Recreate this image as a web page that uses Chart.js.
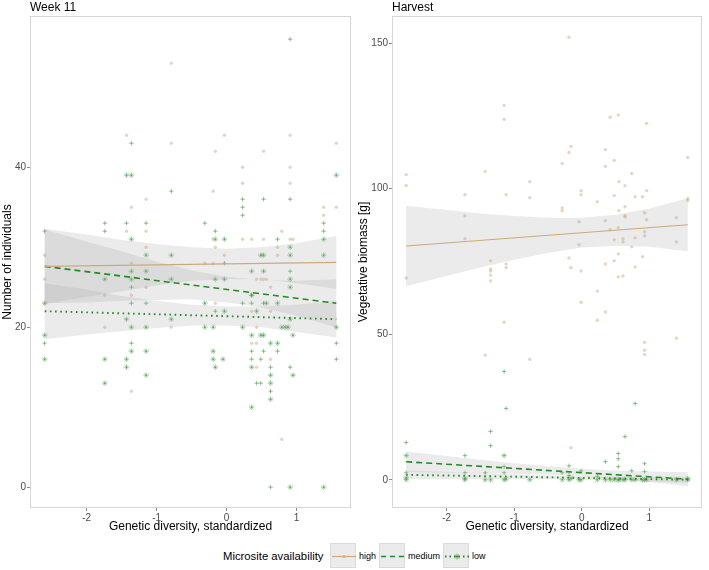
<!DOCTYPE html>
<html>
<head>
<meta charset="utf-8">
<script src="https://cdn.jsdelivr.net/npm/chart.js@4/dist/chart.umd.min.js"></script>
<style>
  html, body { margin:0; padding:0; background:#fff; }
  body { width:709px; height:570px; position:relative; overflow:hidden;
         font-family:"Liberation Sans", Arial, sans-serif; }
  canvas { position:absolute; top:0; }
  .ptitle { position:absolute; top:0; font-size:12px; line-height:14px; color:#000; }
  #legend { position:absolute; left:0; top:543px; width:709px; height:26px; }
  .lg { position:absolute; top:0; height:26px; line-height:26px; color:#000; }
  .key { position:absolute; top:0; width:26px; height:25px; background:#ebebeb; box-sizing:border-box; border:1px solid #dadada; }
  .key svg { position:absolute; left:0; top:0; }
</style>
</head>
<body>
<canvas id="c1" width="356" height="538" style="left:0px"></canvas>
<canvas id="c2" width="353" height="538" style="left:356px"></canvas>
<div class="ptitle" style="left:30px">Week 11</div>
<div class="ptitle" style="left:392px">Harvest</div>
<div id="legend">
  <div class="lg" style="left:223px;font-size:11.3px">Microsite availability</div>
  <div class="key" style="left:330px"><svg width="26" height="25"><line x1="1" y1="12.5" x2="25" y2="12.5" stroke="rgb(205,170,125)" stroke-width="1.2"/><circle cx="13" cy="12.5" r="1.6" fill="rgba(205,170,125,0.8)"/></svg></div>
  <div class="lg" style="left:359px;font-size:9px">high</div>
  <div class="key" style="left:379px"><svg width="26" height="25"><line x1="1" y1="12.5" x2="25" y2="12.5" stroke="rgb(34,139,34)" stroke-width="1.6" stroke-dasharray="5,4"/></svg></div>
  <div class="lg" style="left:408px;font-size:9px">medium</div>
  <div class="key" style="left:443px"><svg width="26" height="25"><line x1="1" y1="12.5" x2="25" y2="12.5" stroke="rgb(34,139,34)" stroke-width="1.8" stroke-dasharray="1.5,3"/><g stroke="rgba(34,139,34,0.6)" stroke-width="1"><line x1="10" y1="12.5" x2="16" y2="12.5"/><line x1="13" y1="9.5" x2="13" y2="15.5"/><line x1="11" y1="10.5" x2="15" y2="14.5"/><line x1="15" y1="10.5" x2="11" y2="14.5"/></g></svg></div>
  <div class="lg" style="left:472px;font-size:9px">low</div>
</div>
<script>
// ---------------- data ----------------
const categories = ['high', 'medium', 'low'];
const xTicks = [-2, -1, 0, 1];
const yTicksWeek11 = [0, 20, 40];
const yTicksHarvest = [0, 50, 100, 150];

// Week 11 — number of individuals
const w11HighX = [-0.79,-0.79,-0.79,-1.43,-1.43,-0.03,-0.03,-0.16,-0.16,-0.16,0.91,0.91,0.91,0.91,0.53,0.53,0.53,1.57,1.57,0.23,0.23,0.23,-0.19,-0.19,-0.19,1.39,1.39,-1.15,-1.15,-1.15,-1.15,-1.36,-1.36,-1.36,-1.36,0.79,0.79,0.36,0.36,0.36,0.73,0.73,-2.6,-2.6,-2.6,-0.31,0.57,0.43,0.43,0.43,0.49,-1.74,-1.74,0.43,0.63,0.63,0.63,0.95];
const w11HighY = [53,43,20,44,32,44,29,42,30,23,44,40,38,31,42,31,26,43,35,40,38,31,37,31,28,35,34,36,32,30,25,35,28,24,12,32,6,31,22,18,30,29,29,26,23,28,26,26,18,15,26,24,20,20,25,16,22,31];

const w11MedX = [0.91,-1.36,-0.79,0.23,0.23,0.23,0.53,0.91,-1.74,-1.74,-1.43,-1.15,-0.31,-0.16,-2.6,-2.6,1.39,1.39,0.73,-1.36,-1.36,-1.36,-1.15,-0.03,0.91,0.36,0.53,0.73,1.57,1.57,0.36,0.49,0.63,0.91,0.43,0.49,0.63,0.63,0.23,0.36,0.53,-0.16,0.36];
const w11MedY = [56,43,37,36,35,34,36,36,33,32,33,33,33,32,32,18,33,32,31,25,23,18,23,28,27,17,17,17,16,18,16,16,15,15,13,13,12,0,23,23,23,22,24];

const w11LowX = [-1.43,-1.36,1.57,-1.36,-0.03,1.39,-0.16,0.91,-1.15,-0.79,0.49,0.53,0.91,1.39,-1.36,-1.15,0.36,0.53,-1.74,-1.36,-0.79,-0.16,-0.03,0.91,0.91,0.36,-2.6,-0.31,0.57,0.73,-0.03,0.43,-1.43,-0.79,0.91,-1.36,-1.15,-0.31,-0.19,0.23,0.79,0.84,0.88,1.57,-2.6,0.36,0.49,0.53,0.95,0.63,0.73,-1.36,-1.15,-0.19,-2.6,-1.74,-1.43,-0.19,-0.05,-1.43,-0.16,0.36,-1.15,0.63,0.95,-1.74,0.63,0.63,0.36,0.91,1.39];
const w11LowY = [39,39,39,31,31,31,31,30,29,29,29,29,29,29,27,27,27,27,26,26,26,26,26,26,25,24,23,23,23,23,22,22,21,21,21,20,20,20,20,20,20,20,20,20,19,19,19,19,19,18,18,17,17,17,16,16,16,16,16,15,15,15,14,14,14,13,13,11,10,0,0];

// Harvest — vegetative biomass [g]
const hvHighX = [-0.19,-1.15,-1.15,0.42,0.54,0.96,-0.16,-0.16,-0.19,0.35,0.35,0.48,-0.29,-0.29,-0.29,1.57,1.57,1.57,-2.6,-2.6,-2.6,-1.43,-1.43,0.74,0.74,0.55,0.55,0.64,0.64,0.64,0.64,-0.77,-0.77,-0.77,-1.73,-1.73,-1.73,-1.12,-1.12,-1.12,-0.01,-0.01,-0.01,0.23,0.23,0.23,0.48,0.48,0.48,0.79,0.79,0.79,0.9,0.9,0.96,0.96,0.93,0.93,0.93,0.93,0.93,0.93,-0.04,-0.04,0.35,0.35,0.35,0.42,0.54,0.54,0.54,0.61,0.61,0.61,1.4,1.4,1.4,-0.19,-0.16,-0.01,-1.35,-1.35,-1.35,-1.35,-1.35,-1.15];
const hvHighY = [152,128.6,123.8,124.5,125.3,122.4,114.5,11,112.4,113.4,107.6,109.7,108.6,93.4,92.4,110.7,96.6,95.9,104.8,101.1,69.3,105.9,42.8,105.2,80,102.4,92.4,101,93.8,90.7,90.3,102.4,96.9,41.4,97.9,90.7,82.8,97.9,74.1,72.8,99.3,97.9,71.7,95.5,64.8,54.8,97.6,82.4,75.2,97.2,83.1,73.1,97.2,76.6,99.3,89.3,91.7,85.2,83.8,47.2,44.5,43,88.6,80.7,89,74.1,57.6,85.9,86.6,77.6,69.7,82.8,81.7,70,90,81.7,48.6,76.2,72.8,61,75.2,72.4,71.7,70.3,68.3,54.1];

const hvMedX = [-2.6,-2.6,-1.73,-1.73,-1.15,-1.12,-1.15,-1.15,-1.35,-1.35,0.79,0.64,0.54,0.54,0.54,0.35,-0.19,0.93,0.93,0.74,-0.01,-0.29,-1.43,-0.19,0.23];
const hvMedY = [12.8,2.4,8.3,2.4,37.2,24.5,4.5,2.4,16.6,11.7,26.2,14.8,9,7.2,4.5,6.2,4.8,5.5,2.8,3.1,3.1,2.4,2.4,1.5,1.2];

const hvLowX = [-2.6,-2.6,-2.6,-1.73,-1.73,-1.43,-1.35,-1.15,-1.15,-1.12,-0.77,-0.29,-0.19,-0.16,-0.04,-0.01,0.23,0.35,0.42,0.48,0.54,0.55,0.61,0.64,0.74,0.79,0.9,0.93,0.96,1.4,1.57,1.57];
const hvLowY = [8.3,0.7,0,0,0.5,0,0,8.3,0,0.3,0,0,0,0.5,0,0,0,0,0,0,0,0,0,0,0,0,0,0,0,0,0,0.4];

// fitted lines (endpoints) and confidence bands
const fitX = [-2.6, 1.57];
const w11HighFit = [27.6, 28.1];
const w11MedFit  = [27.6, 23.0];
const w11LowFit  = [22.0, 21.0];
const hvHighFit  = [80.3, 87.6];
const hvMedFit   = [6.2, 0.2];
const hvLowFit   = [1.7, 0.0];

const bandX = [-2.6, -2, -1.5, -1, -0.5, 0, 0.5, 1, 1.57];
const w11HighUp = [32.3, 31.6, 30.9, 30.4, 30.0, 29.8, 30.0, 30.5, 31.4];
const w11HighLo = [22.9, 23.8, 24.5, 25.2, 25.8, 26.0, 26.0, 25.5, 24.8];
const w11MedUp  = [32.2, 30.7, 29.5, 28.2, 27.1, 26.3, 25.9, 25.8, 26.0];
const w11MedLo  = [23.0, 23.1, 23.3, 23.4, 23.5, 23.1, 22.5, 21.4, 20.0];
const w11LowUp  = [25.5, 24.7, 23.9, 23.3, 22.8, 22.6, 22.6, 22.8, 23.3];
const w11LowLo  = [18.5, 19.1, 19.5, 19.9, 20.2, 20.2, 20.0, 19.4, 18.7];
const hvHighUp  = [94.1, 92.7, 91.5, 90.6, 90.0, 90.0, 91.0, 93.2, 96.7];
const hvHighLo  = [66.5, 70.0, 72.9, 75.6, 77.9, 79.8, 80.4, 80.0, 78.5];
const hvMedUp   = [9.7, 8.2, 6.9, 5.7, 4.6, 3.8, 3.1, 2.8, 2.6];
const hvMedLo   = [2.7, 2.4, 2.3, 2.1, 1.8, 1.2, 0.3, -0.8, -2.2];
const hvLowUp   = [3.2, 2.7, 2.3, 1.9, 1.5, 1.2, 1.0, 1.0, 1.0];
const hvLowLo   = [0.2, 0.3, 0.3, 0.3, 0.3, 0.0, -0.2, -0.6, -1.0];

// ---------------- styling ----------------
const FONT = '"Liberation Sans", Arial, sans-serif';
const TAN = 'rgb(205,170,125)';
const GREEN = 'rgb(34,139,34)';
const BAND = 'rgba(153,153,153,0.2)';
const NONE = 'rgba(0,0,0,0)';

Chart.defaults.backgroundColor = NONE;
Chart.defaults.borderColor = NONE;

const zip = (xs, ys) => xs.map((x, i) => ({x, y: ys[i]}));

function pointsDS(xs, ys, kind) {
  const base = { type: 'scatter', data: zip(xs, ys), order: 3, fill: false, showLine: false };
  if (kind === 'high') return Object.assign(base, { pointStyle: 'circle', pointRadius: 1.7,
    backgroundColor: 'rgba(210,180,140,0.55)', borderColor: NONE, borderWidth: 0 });
  if (kind === 'medium') return Object.assign(base, { pointStyle: 'cross', pointRadius: 2.2,
    borderColor: 'rgba(34,139,34,0.5)', backgroundColor: NONE, borderWidth: 1 });
  return Object.assign(base, { pointStyle: 'star', pointRadius: 2.8,
    borderColor: 'rgba(34,139,34,0.4)', backgroundColor: NONE, borderWidth: 1 });
}
// one closed polygon per confidence band: upper edge left->right, lower edge right->left
function bandDS(up, lo) {
  const pts = zip(bandX, up).concat(zip(bandX, lo).reverse());
  return { type: 'line', data: pts, fill: 'shape', backgroundColor: BAND, borderColor: NONE,
           borderWidth: 0, pointRadius: 0, tension: 0, order: 2 };
}
function fitDS(ys, kind) {
  const d = { type: 'line', data: zip(fitX, ys), fill: false, pointRadius: 0, order: 1,
              backgroundColor: NONE };
  if (kind === 'high') return Object.assign(d, { borderColor: TAN, borderWidth: 1.2 });
  if (kind === 'medium') return Object.assign(d, { borderColor: GREEN, borderWidth: 1.6, borderDash: [6, 4] });
  return Object.assign(d, { borderColor: GREEN, borderWidth: 1.9, borderDash: [1.6, 3.6] });
}

const panelBorder = {
  id: 'panelBorder',
  afterDraw(chart) {
    const a = chart.chartArea, ctx = chart.ctx;
    ctx.save();
    ctx.strokeStyle = '#d6d6d6';
    ctx.lineWidth = 1;
    ctx.strokeRect(a.left + 0.5, a.top + 0.5, a.right - a.left - 1, a.bottom - a.top - 1);
    ctx.restore();
  }
};

function makeChart(id, datasets, yMin, yMax, yTicks, yTitle, yWidth, padRight) {
  return new Chart(document.getElementById(id), {
    type: 'scatter',
    data: { datasets },
    plugins: [panelBorder],
    options: {
      responsive: false, animation: false, devicePixelRatio: 1,
      layout: { padding: { top: 16, right: padRight, left: 0, bottom: 0 } },
      plugins: { legend: { display: false }, tooltip: { enabled: false }, title: { display: false },
                 filler: { propagate: false } },
      scales: {
        x: {
          type: 'linear', min: -2.81, max: 1.78,
          afterBuildTicks: s => { s.ticks = xTicks.map(v => ({ value: v })); },
          afterFit: s => { s.height = 30; },
          grid: { drawOnChartArea: false, drawTicks: true, tickLength: 3, color: '#8a8a8a' },
          border: { display: false },
          ticks: { color: '#4d4d4d', font: { size: 10, family: FONT }, padding: 1, maxRotation: 0,
                   callback: v => String(v) },
          title: { display: true, text: 'Genetic diversity, standardized', color: '#000',
                   font: { size: 12, family: FONT }, padding: { top: 0, bottom: 4 } }
        },
        y: {
          type: 'linear', min: yMin, max: yMax,
          afterBuildTicks: s => { s.ticks = yTicks.map(v => ({ value: v })); },
          afterFit: s => { s.width = yWidth; },
          grid: { drawOnChartArea: false, drawTicks: true, tickLength: 3, color: '#8a8a8a' },
          border: { display: false },
          ticks: { color: '#4d4d4d', font: { size: 10, family: FONT }, padding: 1,
                   callback: v => String(v) },
          title: { display: true, text: yTitle, color: '#000',
                   font: { size: 12, family: FONT }, padding: { top: 0, bottom: 0 } }
        }
      }
    }
  });
}

const w11Sets = [
  pointsDS(w11HighX, w11HighY, 'high'),
  pointsDS(w11MedX, w11MedY, 'medium'),
  pointsDS(w11LowX, w11LowY, 'low'),
  bandDS(w11HighUp, w11HighLo),
  bandDS(w11MedUp, w11MedLo),
  bandDS(w11LowUp, w11LowLo),
  fitDS(w11HighFit, 'high'), fitDS(w11MedFit, 'medium'), fitDS(w11LowFit, 'low')
];
const hvSets = [
  pointsDS(hvHighX, hvHighY, 'high'),
  pointsDS(hvMedX, hvMedY, 'medium'),
  pointsDS(hvLowX, hvLowY, 'low'),
  bandDS(hvHighUp, hvHighLo),
  bandDS(hvMedUp, hvMedLo),
  bandDS(hvLowUp, hvLowLo),
  fitDS(hvHighFit, 'high'), fitDS(hvMedFit, 'medium'), fitDS(hvLowFit, 'low')
];

makeChart('c1', w11Sets, -2.6, 58.9, yTicksWeek11, 'Number of individuals', 30, 5);
makeChart('c2', hvSets, -9.7, 159.3, yTicksHarvest, 'Vegetative biomass [g]', 36, 7);
</script>
</body>
</html>
